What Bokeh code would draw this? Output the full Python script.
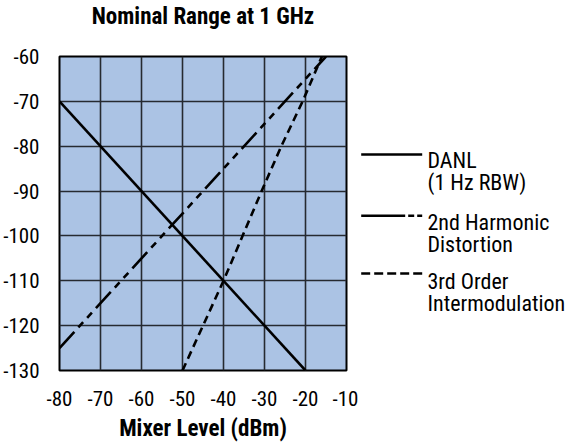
from bokeh.plotting import figure
from bokeh.layouts import row
from bokeh.models import FixedTicker, Range1d, Title
from bokeh.core.properties import value
from bokeh.embed import file_html
from bokeh.resources import INLINE

FONT = "Roboto Condensed"

# Data
danl_x = [-80, -20]
danl_y = [-70, -130]
harm2_x = [-80, -15]
harm2_y = [-125, -60]
im3_x = [-50, -40, -30.7, -25.9, -20.7, -16]
im3_y = [-130, -110, -90, -80, -70, -60]

x_ticks = [-80, -70, -60, -50, -40, -30, -20, -10]
y_ticks = [-130, -120, -110, -100, -90, -80, -70, -60]

title_text = "Nominal Range at 1 GHz"
x_label_text = "Mixer Level (dBm)"
legend_labels = [["DANL", "(1 Hz RBW)"],
                 ["2nd Harmonic", "Distortion"],
                 ["3rd Order", "Intermodulation"]]

p = figure(width=358, height=444, x_range=(-80, -10), y_range=(-130, -60),
           output_backend="svg", toolbar_location=None, title=None,
           min_border_left=57, min_border_right=12, min_border_top=56, min_border_bottom=71)
p.background_fill_color = "#abc3e4"
p.outline_line_color = "black"
p.outline_line_width = 2

# title with an empty second line, so that the visible line sits higher above the frame
p.add_layout(Title(text=title_text + "\n\u00a0", text_font=FONT, text_font_size="23px",
                   text_font_style="bold", text_color="black", align="center",
                   text_line_height=1.0, standoff=0), "above")

for ax in (p.xaxis[0], p.yaxis[0]):
    ax.axis_line_color = None
    ax.major_tick_line_color = None
    ax.minor_tick_line_color = None
    ax.major_label_text_font = FONT
    ax.major_label_text_font_size = "21px"
    ax.major_label_text_color = "black"

p.xaxis.ticker = FixedTicker(ticks=x_ticks)
p.yaxis.ticker = FixedTicker(ticks=y_ticks)
p.xaxis.major_label_overrides = {t: str(t) for t in x_ticks}
p.yaxis.major_label_overrides = {t: str(t) for t in y_ticks}
p.xaxis.major_label_standoff = 14
p.yaxis.major_label_standoff = 14
p.xaxis.axis_label = x_label_text
p.xaxis.axis_label_text_font = FONT
p.xaxis.axis_label_text_font_size = "23px"
p.xaxis.axis_label_text_font_style = "bold"
p.xaxis.axis_label_standoff = 6
p.xaxis.axis_label_text_color = "black"

p.xgrid[0].ticker = FixedTicker(ticks=x_ticks)
p.ygrid[0].ticker = FixedTicker(ticks=y_ticks)
for g in (p.xgrid[0], p.ygrid[0]):
    g.grid_line_color = "#262a30"
    g.grid_line_width = 1.6

p.line(danl_x, danl_y, line_color="black", line_width=2.6)
p.line(harm2_x, harm2_y, line_color="black", line_width=2.6, line_dash="22 6 7 6 7 6")
p.line(im3_x, im3_y, line_color="black", line_width=2.6, line_dash="8 5")

# Legend panel: its frame is aligned with the main frame (page y 56..373)
lg = figure(width=207, height=444, x_range=Range1d(0, 207), y_range=Range1d(373, 56),
            output_backend="svg", toolbar_location=None, title=None,
            x_axis_type=None, y_axis_type=None,
            min_border_left=0, min_border_right=0, min_border_top=0, min_border_bottom=0)
lg.outline_line_color = None
lg.background_fill_color = None
lg.border_fill_color = None
lg.grid.visible = False

sample_y = [155, 216.7, 275]
dashes = ["solid", "44 3 6 3 6 10", "9 4"]
for yy, d in zip(sample_y, dashes):
    lg.line([2.7, 63.7], [yy, yy], line_color="black", line_width=2.4, line_dash=d)

text_x = []
text_y = []
texts = []
baselines = [[161, 183.5], [223.3, 246], [282.7, 305.2]]
for labs, bls in zip(legend_labels, baselines):
    for t, b in zip(labs, bls):
        text_x.append(69)
        text_y.append(b)
        texts.append(t)
lg.text(x=text_x, y=text_y, text=texts, text_font=value(FONT), text_font_size="22px",
        text_baseline="alphabetic", text_align="left", text_color="black")

layout = row(p, lg)
open("out.html", "w").write(file_html(layout, INLINE))
